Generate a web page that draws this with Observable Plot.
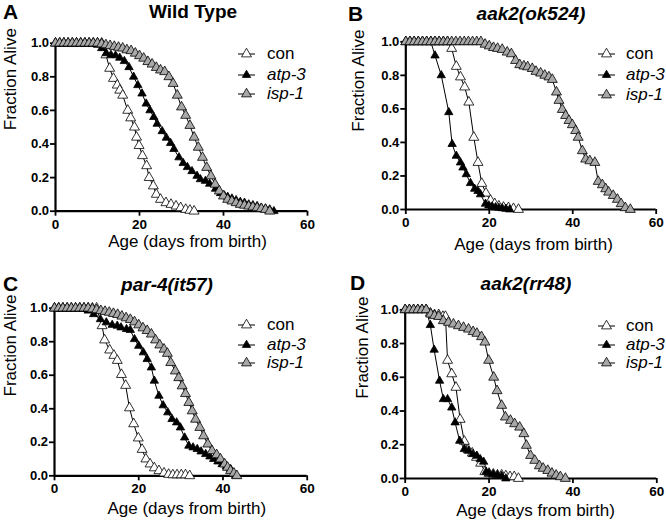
<!DOCTYPE html>
<html>
<head>
<meta charset="utf-8">
<script src="https://cdn.jsdelivr.net/npm/d3@7"></script>
<script src="https://cdn.jsdelivr.net/npm/@observablehq/plot@0.6"></script>
<style>
  html, body { margin: 0; padding: 0; background: #fff; }
  body { width: 666px; height: 525px; overflow: hidden; position: relative;
         font-family: "Liberation Sans", Arial, Helvetica, sans-serif; color: #000; }
  .panel { position: absolute; width: 333px; height: 262px; }
  .panel svg.plot { position: absolute; left: 0; top: 30px; overflow: visible; }
  .panel svg.plot g[aria-label$="tick label"] text { font-weight: bold; }
  .letter { position: absolute; font-weight: bold; font-size: 21px; line-height: 21px; }
  .title { position: absolute; width: 220px; text-align: center; font-weight: bold;
           font-size: 19px; line-height: 19px; white-space: nowrap; }
  .title.it { font-style: italic; }
  .lrow { position: absolute; height: 18px; display: flex; align-items: center;
          font-size: 17px; line-height: 17px; white-space: nowrap; }
  .lrow svg { display: block; }
  .lrow span.it { font-style: italic; }
</style>
</head>
<body>
<script>
// ---------- shared axes ----------
const xTicks = [0, 20, 40, 60];
const yTicks = [0, 0.2, 0.4, 0.6, 0.8, 1.0];
const seriesNames = ["con", "atp-3", "isp-1"];
const panelTitles = ["Wild Type", "aak2(ok524)", "par-4(it57)", "aak2(rr48)"];
const panelLetters = ["A", "B", "C", "D"];

// ---------- Panel A: Wild Type ----------
const A_con_day = [0,1,2,3,4,5,6,7,8,9,10,11,12,12.9,13.8,14.7,15.3,16,17.2,17.9,18.8,19.3,19.9,20.7,21.7,22.3,23.3,24,25,26.3,27.5,28.7,29.8,31,32,33];
const A_con_f   = [1,1,1,1,1,1,1,1,1,1,1,1,0.93,0.85,0.79,0.75,0.72,0.69,0.60,0.555,0.50,0.44,0.39,0.33,0.27,0.20,0.15,0.10,0.07,0.05,0.04,0.03,0.02,0.01,0.005,0];
const A_atp_day = [0,1,2,3,4,5,6,7,8,9,10,11,12.1,13.2,14.3,15.3,16.4,17.5,18.6,19.6,20.6,21.6,22.5,23.4,24.2,25.4,26.4,27.4,28.2,29.4,30.4,31.4,32.5,33.7,34.5,35.7,36.7,38.1,39.3,40.2,41,42,43,44,45,46,47,48,49,50,51,52];
const A_atp_f   = [1,1,1,1,1,1,1,1,1,1,0.99,0.97,0.94,0.93,0.927,0.913,0.893,0.857,0.80,0.75,0.70,0.64,0.60,0.56,0.52,0.476,0.437,0.405,0.37,0.32,0.286,0.262,0.238,0.21,0.19,0.18,0.163,0.133,0.107,0.093,0.085,0.075,0.065,0.055,0.05,0.04,0.035,0.03,0.02,0.015,0.01,0];
const A_isp_day = [0,1,2,3,4,5,6,7,8,9,10,11,12,13,14,15,16,17,18,19,20,21,22,23,24,25,26,27,28,29,30,31,32,33,34,35,36,37,38,39,40,41,42,43,44,45,46,47,48,49,50,51];
const A_isp_f   = [1,1,1,1,1,1,1,1,1,1,1,0.995,0.99,0.985,0.98,0.975,0.97,0.96,0.955,0.94,0.925,0.91,0.89,0.875,0.855,0.84,0.83,0.80,0.76,0.69,0.62,0.57,0.51,0.44,0.38,0.32,0.26,0.21,0.16,0.12,0.09,0.07,0.06,0.05,0.04,0.035,0.03,0.025,0.02,0.015,0.01,0];

// ---------- Panel B: aak2(ok524) ----------
const B_con_day = [0,1,2,3,4,5,6,7,8,9,10,11,12.1,13.1,14.1,15.1,16.3,17.3,18.2,19.2,20.3,21.3,22.3,23.4,24.6,25.8,27];
const B_con_f   = [1,1,1,1,1,1,1,1,1,1,1,0.96,0.853,0.79,0.73,0.64,0.43,0.28,0.155,0.097,0.054,0.034,0.02,0.013,0.01,0.005,0];
const B_atp_day = [0,1,2,3,4,5,6,7,8.5,10.3,11.1,12.1,13.1,13.7,14.5,15.5,16.5,17.3,17.9,19.1,19.9,20.7,21.5,22.3,23.1,24,24.9];
const B_atp_f   = [1,1,1,1,1,1,1,0.918,0.80,0.58,0.39,0.32,0.28,0.25,0.21,0.157,0.123,0.11,0.09,0.034,0.024,0.018,0.013,0.01,0.007,0.004,0];
const B_isp_day = [0,1,2,3,4,5,6,7,8,9,10,11,12,13,14,15,16,17,18,19,20,21,22,23.1,24.3,25.3,26.3,27.3,28.3,29.2,30.3,31.2,32.3,33.3,34.3,35.1,36.1,36.7,37.5,38.3,39.1,39.9,40.7,41.3,42.3,43.1,44.1,45.3,46.1,47.1,47.9,48.6,49.7,50.7,51.6,52.6,53.8];
const B_isp_f   = [1,1,1,1,1,1,1,1,1,1,1,1,1,1,1,1,1,1,1,0.985,0.975,0.965,0.96,0.954,0.938,0.928,0.888,0.863,0.855,0.85,0.84,0.823,0.813,0.80,0.79,0.775,0.70,0.65,0.596,0.56,0.53,0.505,0.47,0.43,0.35,0.30,0.29,0.28,0.167,0.147,0.123,0.103,0.083,0.06,0.034,0.01,0];

// ---------- Panel C: par-4(it57) ----------
const C_con_day = [0,1,2,3,4,5,6,7,8,9,10,11.3,11.9,13.1,14.1,14.9,15.9,16.9,17.8,18.8,19.9,20.8,21.7,22.7,23.7,24.8,26,27.1,28.1,29.1,30.1,31.1,32.1];
const C_con_f   = [1,1,1,1,1,1,1,1,1,1,1,0.895,0.81,0.75,0.718,0.688,0.604,0.539,0.405,0.31,0.225,0.157,0.10,0.07,0.047,0.03,0.016,0.008,0.005,0.005,0.005,0.005,0];
const C_atp_day = [0,1,2,3,4,5,6,7,8,9.3,10.9,12.3,13.7,14.9,15.8,17.1,18,19,20,21.1,22,23,23.7,24.8,25.8,26.9,27.9,29,29.9,30.9,31.9,32.9,33.9,34.8,35.9,36.9,37.8,38.8,39.8,40.8,41.8,43];
const C_atp_f   = [1,1,1,1,1,1,1,1,0.985,0.964,0.934,0.915,0.90,0.895,0.885,0.875,0.87,0.815,0.775,0.736,0.696,0.646,0.567,0.477,0.42,0.378,0.338,0.318,0.288,0.228,0.179,0.169,0.159,0.145,0.129,0.115,0.10,0.085,0.069,0.055,0.04,0];
const C_isp_day = [0,1,2,3,4,5,6,7,8,9,10,11,12,13,14,15,16,17,18,19,20,21,22,23,24,25,26,26.8,27.6,28.7,29.5,30.3,31.1,31.9,32.7,33.5,34.5,35.4,36.4,37.4,38.5,39.4,40.4,41.1,41.8,42.6,43.3];
const C_isp_f   = [1,1,1,1,1,1,1,1,1,0.995,0.99,0.985,0.98,0.975,0.968,0.962,0.952,0.942,0.932,0.918,0.90,0.882,0.866,0.845,0.81,0.78,0.755,0.73,0.675,0.625,0.585,0.536,0.49,0.437,0.387,0.337,0.288,0.238,0.189,0.149,0.125,0.10,0.07,0.05,0.03,0.015,0];

// ---------- Panel D: aak2(rr48) ----------
const D_con_day = [0,1,2,3,4,5,6,7,8,9,9.6,10.1,11.1,12.1,13.1,14.1,15,16,17,18,19,20,21,22,23,24,25,26,27];
const D_con_f   = [1,1,1,1,1,1,0.98,0.97,0.97,0.96,0.96,0.70,0.62,0.54,0.35,0.22,0.17,0.15,0.125,0.09,0.04,0.03,0.025,0.02,0.02,0.015,0.01,0.01,0];
const D_atp_day = [0,1,2,3,4,5,6,6.9,8.2,9.1,10.1,11.1,11.9,13,14.1,15.1,16.1,17.1,17.9,18.7,19.3,20,21,22,23,24];
const D_atp_f   = [1,1,1,1,1,1,0.909,0.763,0.579,0.47,0.47,0.42,0.332,0.223,0.174,0.164,0.144,0.134,0.114,0.099,0.04,0.03,0.025,0.02,0.015,0];
const D_isp_day = [0,1,2,3,4,5,6.1,7,8,9.1,10.3,11.5,12.7,13.9,15.1,16.2,17.1,18.2,19,19.9,21.1,21.9,23,23.9,25.1,26.1,27.3,28.3,28.9,29.9,30.9,32,32.9,34,35,36,37,38.2];
const D_isp_f   = [1,1,1,1,1,1,0.974,0.965,0.96,0.935,0.925,0.915,0.905,0.895,0.885,0.87,0.86,0.84,0.808,0.70,0.60,0.52,0.433,0.364,0.344,0.324,0.304,0.265,0.196,0.136,0.107,0.075,0.06,0.047,0.031,0.019,0.01,0];

// ---------- styles ----------
const FONT = '"Liberation Sans", Arial, Helvetica, sans-serif';
const markerStyle = {
  "con":   {fill: "#ffffff", r: 3.7},
  "atp-3": {fill: "#000000", r: 3.1},
  "isp-1": {fill: "#a8a8a8", r: 3.7}
};

function rows(days, vals, s) { return days.map((d, i) => ({day: d, f: vals[i], s})); }

// layout of each panel (positions only)
const layouts = [
  {left: 0,   top: 0,   ml: 55,  mr: 26,  mt: 12.7, mb: 51.3, xlDx: 6,   xlDy: 36, ylDx: -45, ylDy: 3,
   letter: {x: 3, y: 1}, title: {cx: 193, y: 2}, leg: {x: 238, tx: 267, ys: [53, 74, 93]}},
  {left: 333, top: 0,   ml: 72.3, mr: 10.3, mt: 11.3, mb: 53, xlDx: 2.5, xlDy: 40, ylDx: -47, ylDy: 6,
   letter: {x: 15, y: 3}, title: {cx: 198, y: 4}, leg: {x: 265, tx: 293, ys: [53, 74, 94]}},
  {left: 0,   top: 262, ml: 54,  mr: 26.3, mt: 15.7, mb: 48.7, xlDx: 6,  xlDy: 38, ylDx: -44, ylDy: 4.5,
   letter: {x: 3, y: 11}, title: {cx: 167, y: 13}, leg: {x: 238, tx: 267, ys: [62, 82, 100]}},
  {left: 333, top: 262, ml: 71.7, mr: 9.7, mt: 17.3, mb: 46, xlDx: 4.5, xlDy: 37, ylDx: -43, ylDy: 4.5,
   letter: {x: 17, y: 10}, title: {cx: 193, y: 12}, leg: {x: 265, tx: 293, ys: [63, 82, 100]}}
];

const panelData = [
  [[A_con_day, A_con_f], [A_atp_day, A_atp_f], [A_isp_day, A_isp_f]],
  [[B_con_day, B_con_f], [B_atp_day, B_atp_f], [B_isp_day, B_isp_f]],
  [[C_con_day, C_con_f], [C_atp_day, C_atp_f], [C_isp_day, C_isp_f]],
  [[D_con_day, D_con_f], [D_atp_day, D_atp_f], [D_isp_day, D_isp_f]]
];

function legendGlyph(s) {
  const st = markerStyle[s];
  const ns = "http://www.w3.org/2000/svg";
  const svg = document.createElementNS(ns, "svg");
  svg.setAttribute("width", 20); svg.setAttribute("height", 14);
  const line = document.createElementNS(ns, "line");
  line.setAttribute("x1", 0); line.setAttribute("x2", 17);
  line.setAttribute("y1", 8); line.setAttribute("y2", 8);
  line.setAttribute("stroke", "#000"); line.setAttribute("stroke-width", 1);
  svg.appendChild(line);
  const sym = d3.symbol(d3.symbolTriangle, Math.PI * st.r * st.r)();
  const p = document.createElementNS(ns, "path");
  p.setAttribute("d", sym);
  p.setAttribute("transform", "translate(8.5,8)");
  p.setAttribute("fill", st.fill); p.setAttribute("stroke", "#000"); p.setAttribute("stroke-width", 0.8);
  svg.appendChild(p);
  return svg;
}

layouts.forEach((L, i) => {
  const panel = document.createElement("div");
  panel.className = "panel";
  panel.style.left = L.left + "px"; panel.style.top = L.top + "px";
  document.body.appendChild(panel);

  const letter = document.createElement("div");
  letter.className = "letter";
  letter.textContent = panelLetters[i];
  letter.style.left = L.letter.x + "px"; letter.style.top = L.letter.y + "px";
  panel.appendChild(letter);

  const title = document.createElement("div");
  title.className = "title" + (i > 0 ? " it" : "");
  title.textContent = panelTitles[i];
  title.style.left = (L.title.cx - 110) + "px"; title.style.top = L.title.y + "px";
  panel.appendChild(title);

  const data = seriesNames.flatMap((s, k) => rows(panelData[i][k][0], panelData[i][k][1], s));

  const chart = Plot.plot({
    width: 333, height: 232,
    marginLeft: L.ml, marginRight: L.mr, marginTop: L.mt, marginBottom: L.mb,
    style: {fontFamily: FONT, background: "transparent", color: "#000", overflow: "visible"},
    x: {domain: [0, 60]},
    y: {domain: [0, 1]},
    marks: [
      Plot.axisX({ticks: xTicks, tickSize: 5, tickPadding: 3, fontSize: 13.5, fontWeight: "bold",
                  label: null, strokeWidth: 1.8, stroke: "#000"}),
      Plot.axisY({ticks: yTicks, tickSize: 5, tickPadding: 1.5, fontSize: 13, fontWeight: "bold",
                  tickFormat: d3.format(".1f"), label: null, strokeWidth: 1.8, stroke: "#000"}),
      Plot.ruleY([0], {stroke: "#000", strokeWidth: 2.2}),
      Plot.ruleX([0], {stroke: "#000", strokeWidth: 2.2}),
      Plot.text(["Age (days from birth)"], {text: d => d, frameAnchor: "bottom", dx: L.xlDx, dy: L.xlDy, fontSize: 17, fill: "#000"}),
      Plot.text(["Fraction Alive"], {text: d => d, frameAnchor: "left", rotate: -90, dx: L.ylDx, dy: L.ylDy, fontSize: 17, fill: "#000"}),
      Plot.line(data, {x: "day", y: "f", z: "s", stroke: "#000", strokeWidth: 1}),
      ...seriesNames.map(s => Plot.dot(data.filter(d => d.s === s), {
        x: "day", y: "f", symbol: "triangle", r: markerStyle[s].r,
        fill: markerStyle[s].fill, stroke: "#000", strokeWidth: 0.8
      }))
    ]
  });
  chart.classList.add("plot");
  panel.appendChild(chart);

  seriesNames.forEach((s, k) => {
    const row = document.createElement("div");
    row.className = "lrow";
    row.style.left = L.leg.x + "px";
    row.style.top = (L.leg.ys[k] - 9) + "px";
    const g = legendGlyph(s);
    g.style.marginRight = (L.leg.tx - L.leg.x - 20) + "px";
    row.appendChild(g);
    const t = document.createElement("span");
    t.textContent = s;
    if (s !== "con") t.className = "it";
    row.appendChild(t);
    panel.appendChild(row);
  });
});
</script>
</body>
</html>
